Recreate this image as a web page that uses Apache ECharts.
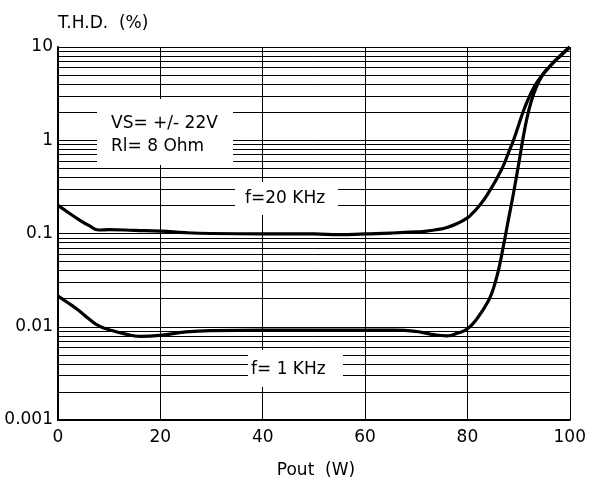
<!DOCTYPE html>
<html>
<head>
<meta charset="utf-8">
<script src="https://cdn.jsdelivr.net/npm/echarts@6/dist/echarts.min.js"></script>
<style>html,body{margin:0;padding:0;background:#fff}#c{width:589px;height:485px}</style>
</head>
<body>
<div id="c"></div>
<script>
// Data
var x20k = [0, 2, 4, 6, 8, 10, 15, 20, 25, 30, 40, 50, 55, 60, 65, 70, 72, 74, 76, 78, 80, 81, 82, 83, 84, 85, 86, 87, 88, 89, 90, 91, 92, 93, 94, 95, 96, 97, 98, 99, 100];
var y20k = [0.2, 0.168, 0.142, 0.122, 0.109, 0.11, 0.108, 0.106, 0.102, 0.1, 0.099, 0.099, 0.097, 0.099, 0.101, 0.104, 0.106, 0.11, 0.116, 0.128, 0.147, 0.165, 0.189, 0.222, 0.267, 0.329, 0.414, 0.53, 0.73, 1.0, 1.45, 2.1, 2.85, 3.7, 4.5, 5.3, 6.1, 7.0, 7.9, 8.9, 10];
var x1k = [0, 2, 4, 6, 8, 10, 13, 16, 20, 25, 30, 40, 50, 60, 66, 70, 73, 76, 78, 80, 82, 84, 85, 86, 87, 88, 89, 90, 91, 92, 93, 94, 95, 96, 97, 98, 99, 100];
var y1k = [0.0213, 0.018, 0.015, 0.0122, 0.0102, 0.0093, 0.0084, 0.0079, 0.0081, 0.0088, 0.0091, 0.0092, 0.0092, 0.0092, 0.0092, 0.0089, 0.0083, 0.0080, 0.0085, 0.0095, 0.0125, 0.0185, 0.025, 0.039, 0.072, 0.14, 0.27, 0.55, 1.15, 2.1, 3.2, 4.3, 5.3, 6.1, 7.0, 7.9, 8.9, 10];
var xTicks = [0, 20, 40, 60, 80, 100];
var yTickLabels = ['0.001', '0.01', '0.1', '1', '10'];
var decades = [0.001, 0.01, 0.1, 1];
var minorMultipliers = [2, 3, 4, 5, 6, 7, 8, 9];

var minorLines = [];
decades.forEach(function (d) {
  minorMultipliers.forEach(function (m) {
    var v = +(m * d).toPrecision(3);
    minorLines.push({ coords: [[0, v], [100, v]] });
  });
});

function zip(xs, ys) { return xs.map(function (x, i) { return [x, ys[i]]; }); }

var FONT = 'DejaVu Sans';
var chart = echarts.init(document.getElementById('c'), null, { renderer: 'canvas' });
chart.setOption({
  animation: false,
  backgroundColor: '#fff',
  grid: { left: 58, right: 16, top: 47, bottom: 65, containLabel: false },
  xAxis: {
    type: 'value', min: 0, max: 100, interval: 20,
    axisLine: { show: true, lineStyle: { color: '#000', width: 2 } },
    axisTick: { show: false },
    axisLabel: { color: '#000', fontFamily: FONT, fontSize: 17, margin: 9,
      formatter: function (v) { return xTicks.indexOf(v) >= 0 ? String(v) : ''; } },
    splitLine: { show: true, lineStyle: { color: '#000', width: 1 } }
  },
  yAxis: {
    type: 'log', logBase: 10, min: 0.001, max: 10,
    axisLine: { show: true, lineStyle: { color: '#000', width: 2 } },
    axisTick: { show: false },
    axisLabel: { color: '#000', fontFamily: FONT, fontSize: 17, margin: 5,
      formatter: function (v) { return yTickLabels[Math.round(Math.log10(v)) + 3]; } },
    splitLine: { show: true, lineStyle: { color: '#000', width: 1 } },
    minorSplitLine: { show: false }
  },
  series: [
    {
      type: 'lines', coordinateSystem: 'cartesian2d', silent: true, z: 1,
      polyline: false, effect: { show: false },
      lineStyle: { color: '#000', width: 1, opacity: 1, curveness: 0 },
      data: minorLines
    },
    {
      name: 'f=20 KHz', type: 'line', data: zip(x20k, y20k), showSymbol: false,
      smooth: 0.5, z: 5,
      lineStyle: { color: '#000', width: 3.2 }
    },
    {
      name: 'f= 1 KHz', type: 'line', data: zip(x1k, y1k), showSymbol: false,
      smooth: 0.5, z: 5,
      lineStyle: { color: '#000', width: 3.2 }
    }
  ],
  graphic: [
    { type: 'rect', z: 100, shape: { x: 97, y: 99, width: 136, height: 66 }, style: { fill: '#fff' } },
    { type: 'rect', z: 100, shape: { x: 235, y: 182, width: 103, height: 33 }, style: { fill: '#fff' } },
    { type: 'rect', z: 100, shape: { x: 248, y: 350, width: 95, height: 37 }, style: { fill: '#fff' } },
    { type: 'text', z: 101, x: 111, y: 123.5, style: { text: 'VS= +/- 22V', fontFamily: FONT, fontSize: 17, fill: '#000', textVerticalAlign: 'middle' } },
    { type: 'text', z: 101, x: 111, y: 146.5, style: { text: 'Rl= 8 Ohm', fontFamily: FONT, fontSize: 17, fill: '#000', textVerticalAlign: 'middle' } },
    { type: 'text', z: 101, x: 245, y: 198.5, style: { text: 'f=20 KHz', fontFamily: FONT, fontSize: 17, fill: '#000', textVerticalAlign: 'middle' } },
    { type: 'text', z: 101, x: 251, y: 370, style: { text: 'f= 1 KHz', fontFamily: FONT, fontSize: 17, fill: '#000', textVerticalAlign: 'middle' } },
    { type: 'text', z: 101, x: 58, y: 24, style: { text: 'T.H.D.  (%)', fontFamily: FONT, fontSize: 17, fill: '#000', textVerticalAlign: 'middle' } },
    { type: 'text', z: 101, x: 316, y: 471, style: { text: 'Pout  (W)', fontFamily: FONT, fontSize: 17, fill: '#000', textAlign: 'center', textVerticalAlign: 'middle' } }
  ]
});
</script>
</body>
</html>
